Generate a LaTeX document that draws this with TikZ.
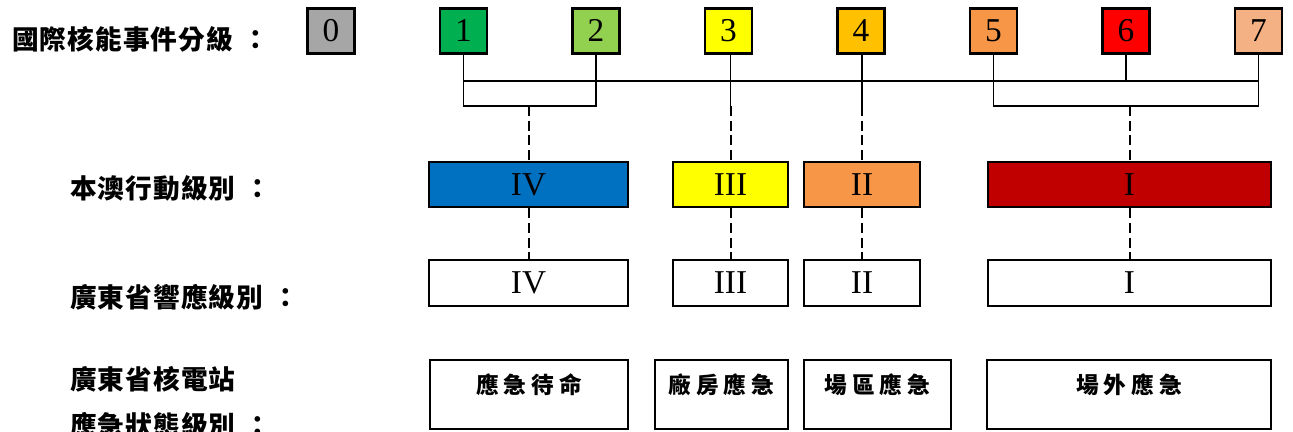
\documentclass[tikz,border=0pt]{standalone}
\usepackage{fontspec}
\setmainfont{Liberation Serif}
\newfontfamily\cjk{Noto Sans CJK TC}
\newcommand\lblcolon{\kern7pt：}
\definecolor{ines0}{HTML}{A6A6A6}
\definecolor{ines1}{HTML}{00B050}
\definecolor{ines2}{HTML}{92D050}
\definecolor{ines3}{HTML}{FFFF00}
\definecolor{ines4}{HTML}{FFC000}
\definecolor{ines5}{HTML}{F79646}
\definecolor{ines6}{HTML}{FF0000}
\definecolor{ines7}{HTML}{F4B183}
\definecolor{actblue}{HTML}{0070C0}
\definecolor{actred}{HTML}{C00000}
\begin{document}
\begin{tikzpicture}[x=0.75pt,y=-0.75pt,
  levelbox/.style={draw,line width=2pt,minimum width=35.25pt,minimum height=33.75pt,inner sep=0pt,text height=16.5pt,text depth=0pt,yshift=-1pt,font=\fontsize{25pt}{25pt}\selectfont},
  actbox/.style={draw,line width=2pt,minimum height=33.75pt,inner sep=0pt,font=\fontsize{25pt}{25pt}\selectfont},
  gdbox/.style={actbox,minimum height=34.5pt},
  stbox/.style={draw,line width=2pt,minimum height=51.75pt,inner sep=0pt},
  sttext/.style={yshift=7.5pt,inner sep=0pt,font=\cjk\bfseries\fontsize{17pt}{17pt}\selectfont\addfontfeatures{LetterSpace=22}},
  rowlabel/.style={anchor=west,inner sep=0pt,font=\cjk\bfseries\fontsize{20pt}{20pt}\selectfont\addfontfeatures{LetterSpace=4}},
  conn/.style={line width=1.4pt},
  link/.style={line width=1.5pt,dash pattern=on 7.5pt off 3.5pt}]
\useasboundingbox (0,0) rectangle (1293,432);
% row labels
\begin{scope}
\node[rowlabel] (tines) at (12,39) {國際核能事件分級\lblcolon};
\node[rowlabel] (tact) at (70,188.5) {本澳行動級別\lblcolon};
\node[rowlabel] (tgd) at (70,297) {廣東省響應級別\lblcolon};
\node[rowlabel] (tst) at (70,379) {廣東省核電站};
\node[rowlabel] (tst2) at (70,425) {應急狀態級別\lblcolon};
\end{scope}
% INES levels
\foreach \i/\c in {0/ines0,1/ines1,2/ines2,3/ines3,4/ines4,5/ines5,6/ines6,7/ines7}
  \node[levelbox,fill=\c] (lv\i) at (331+132.5*\i,29.5) {\i};
% action levels
\begin{scope}
\node[actbox,fill=actblue,minimum width=149.25pt] (act4) at (528.5,184.5) {IV};
\node[actbox,fill=ines3,minimum width=86.25pt] (act3) at (730.5,184.5) {III};
\node[actbox,fill=ines5,minimum width=87pt] (act2) at (862,184.5) {II};
\node[actbox,fill=actred,minimum width=212.25pt] (act1) at (1129.5,184.5) {I};
\end{scope}
% Guangdong levels
\begin{scope}
\node[gdbox,minimum width=149.25pt] (gd4) at (528.5,283) {IV};
\node[gdbox,minimum width=86.25pt] (gd3) at (730.5,283) {III};
\node[gdbox,minimum width=87pt] (gd2) at (862,283) {II};
\node[gdbox,minimum width=212.25pt] (gd1) at (1129.5,283) {I};
\end{scope}
% plant states
\begin{scope}
\node[stbox,minimum width=148.5pt,label={[sttext]center:應急待命}] (st4) at (529,394.5) {};
\node[stbox,minimum width=99.75pt,label={[sttext]center:廠房應急}] (st3) at (721.5,394.5) {};
\node[stbox,minimum width=110.25pt,label={[sttext]center:場區應急}] (st2) at (877.5,394.5) {};
\node[stbox,minimum width=213pt,label={[sttext]center:場外應急}] (st1) at (1129,394.5) {};
\end{scope}
% connectors
\coordinate (bus) at (0,81);
\coordinate (brk) at (0,106);
\draw[conn] (lv1.south |- bus) -- (lv7.south |- bus);
\draw[conn] (lv6.south) -- (lv6.south |- bus);
\draw[conn] (lv1.south) -- (lv1.south |- brk) -| (lv2.south);
\draw[conn] (lv5.south) -- (lv5.south |- brk) -| (lv7.south);
\draw[conn] (act3.north |- lv3.south) -- (act3.north |- brk);
\draw[conn] (act2.north |- lv4.south) -- (act2.north |- brk);
\foreach \n in {1,2,3,4} {
  \draw[link] (act\n.north |- brk) -- (act\n.north);
  \draw[link] (act\n.south) -- (gd\n.north);
}
\end{tikzpicture}
\end{document}
